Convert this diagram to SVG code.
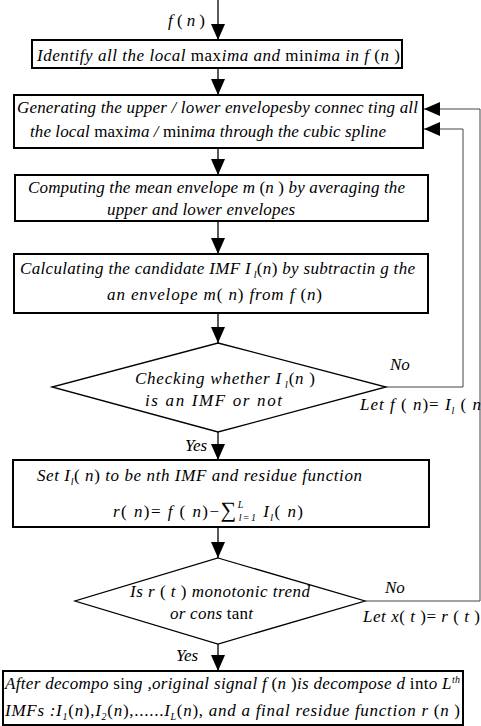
<svg xmlns="http://www.w3.org/2000/svg" width="481" height="726" viewBox="0 0 481 726" font-family="'Liberation Serif', 'Times New Roman', serif">
<style>
.t{font-size:17px;font-style:italic;fill:#000}
.u{font-style:normal}
.s{font-size:10px}
.box{fill:#fff;stroke:#000;stroke-width:2}
.dia{fill:#fff;stroke:#000;stroke-width:1.3}
.flow{stroke:#000;stroke-width:1.3;fill:none}
.fb{stroke:#444;stroke-width:1;fill:none}
</style>
<defs>
<marker id="ah" markerUnits="userSpaceOnUse" markerWidth="16" markerHeight="14" refX="16" refY="7" orient="auto"><path d="M0,0 L16,7 L0,14 Z" fill="#000"/></marker>
</defs>
<g id="n1">
<rect class="box" x="32" y="40" width="370" height="28"/>
<text class="t" font-family="Liberation Serif" x="37" y="61" textLength="363">Identify all the local  <tspan class="u">max</tspan>ima and  <tspan class="u">min</tspan>ima in  f  <tspan class="u">(</tspan>n <tspan class="u">)</tspan></text>
</g>
<g id="n2">
<rect class="box" x="14" y="95" width="409" height="53"/>
<text class="t" font-family="Liberation Serif" x="17" y="113" textLength="401">Generating the upper / lower envelopesby connec ting all</text>
<text class="t" font-family="Liberation Serif" x="30" y="137" textLength="356">the local  <tspan class="u">max</tspan>ima / <tspan class="u">min</tspan>ima  through the cubic spline</text>
</g>
<g id="n3">
<rect class="box" x="15" y="175" width="413" height="46"/>
<text class="t" font-family="Liberation Serif" x="28" y="193" textLength="377">Computing the mean envelope m <tspan class="u">(</tspan>n  <tspan class="u">)</tspan> by averaging the</text>
<text class="t" font-family="Liberation Serif" x="107" y="215" textLength="188">upper and lower envelopes</text>
</g>
<g id="n4">
<rect class="box" x="14" y="254" width="414" height="59"/>
<text class="t" font-family="Liberation Serif" x="20" y="274" textLength="395">Calculating the candidate IMF  I<tspan class="s" dy="4"> l</tspan><tspan class="u" dy="-4">(</tspan>n<tspan class="u">)</tspan> by subtractin g the</text>
<text class="t" font-family="Liberation Serif" x="107" y="300" textLength="215">an envelope m<tspan class="u">(</tspan> n<tspan class="u">)</tspan> from  f <tspan class="u">(</tspan>n<tspan class="u">)</tspan></text>
</g>
<g id="n5">
<polygon class="dia" points="218,343 386,387 218,432 52,387"/>
<text class="t" font-family="Liberation Serif" x="135" y="384" textLength="180">Checking whether  I<tspan class="s" dy="4"> l</tspan><tspan class="u" dy="-4">(</tspan>n <tspan class="u">)</tspan></text>
<text class="t" font-family="Liberation Serif" x="145" y="406" textLength="137">is an IMF  or  not</text>
</g>
<g id="n6">
<rect class="box" x="13" y="460" width="416" height="67"/>
<text class="t" font-family="Liberation Serif" x="37" y="481" textLength="325">Set  I<tspan class="s" dy="4">l</tspan><tspan class="u" dy="-4">(</tspan> n<tspan class="u">)</tspan> to be nth IMF  and  residue  function</text>
<text class="t" font-family="Liberation Serif" x="113" y="517" textLength="190">r<tspan class="u">(</tspan> n<tspan class="u">)= </tspan>f <tspan class="u">(</tspan> n<tspan class="u">)−</tspan><tspan class="u" font-size="22">∑</tspan><tspan class="s" dy="-9">L</tspan><tspan class="s" dx="-6" dy="13">l=1</tspan><tspan dy="-4"> I</tspan><tspan class="s" dy="4">l</tspan><tspan class="u" dy="-4">(</tspan> n<tspan class="u">)</tspan></text>
</g>
<g id="n7">
<polygon class="dia" points="218,558 365,601 218,644 75,601"/>
<text class="t" font-family="Liberation Serif" x="130" y="597" textLength="180">Is  r <tspan class="u">(</tspan> t <tspan class="u">)</tspan> monotonic trend</text>
<text class="t" font-family="Liberation Serif" x="170" y="619" textLength="83">or cons <tspan class="u">tan</tspan>t</text>
</g>
<g id="n8">
<rect class="box" x="3" y="671" width="460" height="54"/>
<text class="t" font-family="Liberation Serif" x="5" y="689" textLength="455">After decompo <tspan class="u">sin</tspan>g ,original  signal  f  <tspan class="u">(</tspan>n <tspan class="u">)</tspan>is decompose d <tspan class="u">int</tspan>o L<tspan class="s" dy="-6">th</tspan></text>
<text class="t" font-family="Liberation Serif" x="5" y="716" textLength="455">IMFs :I<tspan class="s" dy="4">1</tspan><tspan class="u" dy="-4">(</tspan>n<tspan class="u">),</tspan>I<tspan class="s" dy="4">2</tspan><tspan class="u" dy="-4">(</tspan>n<tspan class="u">),......</tspan>I<tspan class="s" dy="4">L</tspan><tspan class="u" dy="-4">(</tspan>n<tspan class="u">),</tspan> and  a  final  residue  function  r <tspan class="u">(</tspan>n <tspan class="u">)</tspan></text>
</g>
<g id="connectors">
<line class="flow" x1="218" y1="0" x2="218" y2="40" marker-end="url(#ah)"/>
<line class="flow" x1="218" y1="68" x2="218" y2="95" marker-end="url(#ah)"/>
<line class="flow" x1="218" y1="148" x2="218" y2="175" marker-end="url(#ah)"/>
<line class="flow" x1="218" y1="221" x2="218" y2="254" marker-end="url(#ah)"/>
<line class="flow" x1="218" y1="313" x2="218" y2="343" marker-end="url(#ah)"/>
<line class="flow" x1="218" y1="432" x2="218" y2="460" marker-end="url(#ah)"/>
<line class="flow" x1="218" y1="527" x2="218" y2="558" marker-end="url(#ah)"/>
<line class="flow" x1="218" y1="644" x2="218" y2="671" marker-end="url(#ah)"/>
<polyline class="fb" points="386,387 463,387 463,129 424,129" marker-end="url(#ah)"/>
<polyline class="fb" points="365,601 480,601 480,109 424,109" marker-end="url(#ah)"/>
<text class="t" font-family="Liberation Serif" x="168" y="26" textLength="37">f <tspan class="u">(</tspan> n <tspan class="u">)</tspan></text>
<text class="t" font-family="Liberation Serif" x="390" y="370">No</text>
<text class="t" font-family="Liberation Serif" x="360" y="410" textLength="121">Let  f <tspan class="u">(</tspan> n<tspan class="u">)= </tspan>I<tspan class="s" dy="4">l</tspan><tspan dy="-4"> </tspan><tspan class="u">(</tspan> n</text>
<text class="t" font-family="Liberation Serif" x="185" y="451">Yes</text>
<text class="t" font-family="Liberation Serif" x="385" y="593">No</text>
<text class="t" font-family="Liberation Serif" x="363" y="622" textLength="117">Let  x<tspan class="u">(</tspan> t <tspan class="u">)= </tspan>r <tspan class="u">(</tspan> t <tspan class="u">)</tspan></text>
<text class="t" font-family="Liberation Serif" x="176" y="661">Yes</text>
</g>
</svg>
